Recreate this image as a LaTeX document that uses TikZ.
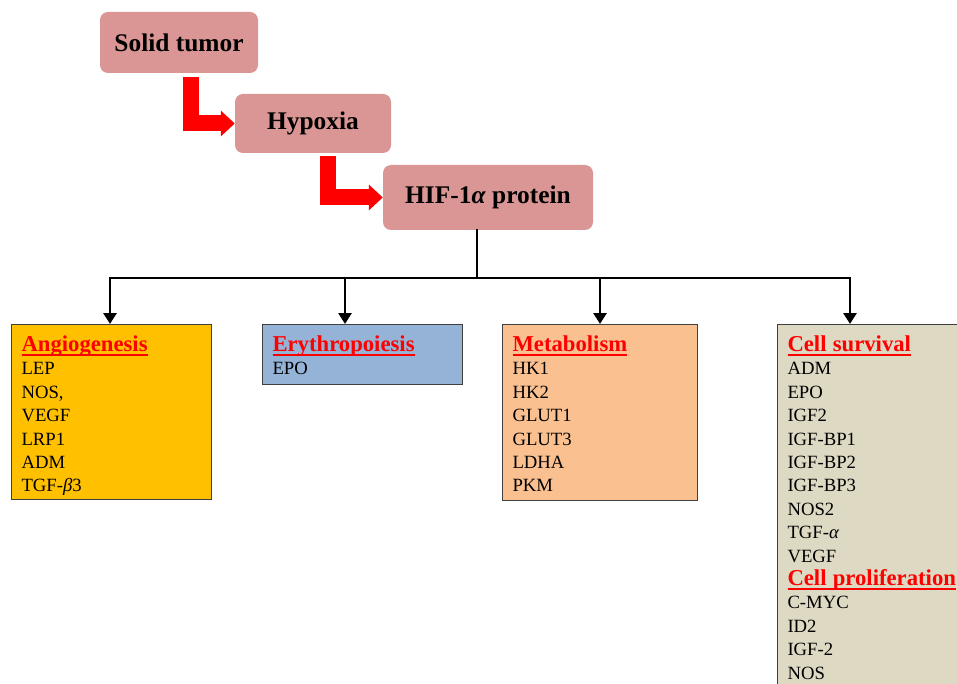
\documentclass[tikz,border=0pt]{standalone}
\usepackage{fontspec}
\setmainfont{Liberation Serif}
\usetikzlibrary{arrows.meta,positioning}
\definecolor{stagepink}{HTML}{D99694}
\definecolor{angioorange}{HTML}{FFC000}
\definecolor{erythroblue}{HTML}{95B3D7}
\definecolor{metapeach}{HTML}{FAC090}
\definecolor{survivaltan}{HTML}{DDD9C3}
\definecolor{boxborder}{HTML}{3F3F3F}
\newsavebox{\headbox}
\newcommand{\grouphead}[1]{\sbox{\headbox}{\color{red}\fontsize{22.7}{23.4}\selectfont\bfseries #1}\mbox{\color{red}\rlap{\usebox{\headbox}}\rule[-4pt]{\wd\headbox}{1.5pt}}}
\tikzstyle{stage}=[rectangle,rounded corners=8pt,fill=stagepink,font=\fontsize{25.4}{30}\selectfont\bfseries]
\tikzstyle{group}=[rectangle,draw=boxborder,line width=1pt,anchor=north west,align=left,inner xsep=10pt,inner ysep=0pt,text height=27pt,font=\fontsize{18.7}{23.4}\selectfont]
\tikzstyle{bigarrow}=[draw=red,line width=16pt,-{Triangle[length=14pt,width=25pt]}]
\tikzstyle{bus}=[line width=2.8pt,line cap=rect]
\tikzstyle{link}=[line width=2.8pt,-{Triangle[length=11pt,width=13pt]}]

\begin{document}
\begin{tikzpicture}[x=1pt,y=-1pt]
  \clip (0,0) rectangle (957,684);
  % chain of causes
  \node[stage,minimum width=158pt,minimum height=61pt] (tumor) at (179,42.5) {Solid tumor};
  \node[stage,minimum width=156pt,minimum height=59pt] (hypoxia) at (313,123.5) {Hypoxia};
  \node[stage,minimum width=210pt,minimum height=65pt] (hif) at (488,197.5) {HIF-1\textit{α} protein};
  \draw[bigarrow] ([xshift=12pt,yshift=-4pt]tumor.south) |- (hypoxia.west);
  \draw[bigarrow] ([xshift=14.5pt,yshift=-3pt]hypoxia.south) |- (hif.west);
  % target groups
  \node[group,fill=angioorange,text width=180pt,text depth=148pt] (angio) at (11,324)
    {\grouphead{Angiogenesis}\\LEP\\NOS,\\VEGF\\LRP1\\ADM\\TGF-\textit{β}3};
  \node[group,fill=erythroblue,text width=180pt,text depth=33pt] (erythro) at (262,324)
    {\grouphead{Erythropoiesis}\\EPO};
  \node[group,fill=metapeach,text width=175pt,text depth=149pt] (meta) at (502,324)
    {\grouphead{Metabolism}\\HK1\\HK2\\GLUT1\\GLUT3\\LDHA\\PKM};
  \node[group,fill=survivaltan,text width=230pt,text depth=380pt] (survival) at (777,324)
    {\grouphead{Cell survival}\\ADM\\EPO\\IGF2\\IGF-BP1\\IGF-BP2\\IGF-BP3\\NOS2\\TGF-\textit{α}\\VEGF\\
     \grouphead{Cell proliferation}\\C-MYC\\ID2\\IGF-2\\NOS};
  % branching connectors
  \coordinate (hub) at (477,278);
  \coordinate (toangio) at (110,278);
  \coordinate (toerythro) at (345,278);
  \coordinate (tometa) at (600,278);
  \coordinate (tosurvival) at (850,278);
  \draw[bus] (hif.south -| hub) -- (hub);
  \draw[bus] (toangio) -- (tosurvival);
  \draw[link] (toangio) -- (toangio |- angio.north);
  \draw[link] (toerythro) -- (toerythro |- erythro.north);
  \draw[link] (tometa) -- (tometa |- meta.north);
  \draw[link] (tosurvival) -- (tosurvival |- survival.north);
\end{tikzpicture}
\end{document}
